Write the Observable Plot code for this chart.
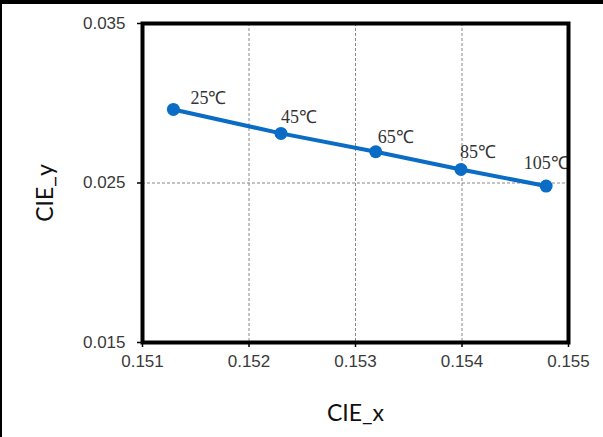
<!DOCTYPE html>
<html>
<head>
<meta charset="utf-8">
<script src="https://cdn.jsdelivr.net/npm/d3@7"></script>
<script src="https://cdn.jsdelivr.net/npm/@observablehq/plot@0.6"></script>
<style>
  html, body { margin: 0; padding: 0; background: #fff; }
  #wrap { position: relative; width: 603px; height: 437px; overflow: hidden; }
  #wrap svg { display: block; position: absolute; left: 0; top: 0; }
  .bt { position: absolute; left: 0; top: 0; width: 603px; height: 4px; background: #000; }
  .bl { position: absolute; left: 0; top: 0; width: 2px; height: 437px; background: #000; }
</style>
</head>
<body>
<div id="wrap"><div class="bt"></div><div class="bl"></div></div>
<script>
const temps = ["25℃", "45℃", "65℃", "85℃", "105℃"];
const cieX = [0.15129, 0.15230, 0.15319, 0.15399, 0.15479];
const cieY = [0.02961, 0.02811, 0.02696, 0.02585, 0.02481];
const xTicks = [0.151, 0.152, 0.153, 0.154, 0.155];
const yTicks = [0.015, 0.025, 0.035];
const xGrid = [0.152, 0.153, 0.154];
const yGrid = [0.025];

const data = temps.map((t, i) => ({t, x: cieX[i], y: cieY[i]}));

const offsets = {
  "25℃": [35, -11], "45℃": [18, -16], "65℃": [20, -15], "85℃": [17, -17], "105℃": [0, -23]
};

const blue = "#0a6cc4";
const tickFont = "'Liberation Sans', Arial, sans-serif";
const titleFont = "Lato, 'Open Sans', sans-serif";

const marks = [
  Plot.ruleX(xGrid, {stroke: "#888", strokeWidth: 1, strokeDasharray: "3,2"}),
  Plot.ruleY(yGrid, {stroke: "#888", strokeWidth: 1, strokeDasharray: "3,2"}),
  Plot.axisY({ticks: yTicks, tickFormat: d3.format(".3f"), tickSize: 5, tickPadding: 12,
    fontSize: 17, fontFamily: tickFont, fill: "#3a3a3a", stroke: "#000", strokeWidth: 1.5, label: null}),
  Plot.axisX({ticks: xTicks, tickFormat: d3.format(".3f"), tickSize: 5, tickPadding: 7,
    fontSize: 17, fontFamily: tickFont, fill: "#3a3a3a", stroke: "#000", strokeWidth: 1.5, label: null}),
  Plot.line(data, {x: "x", y: "y", stroke: blue, strokeWidth: 4}),
  Plot.dot(data, {x: "x", y: "y", r: 6.5, fill: blue, stroke: null}),
  ...temps.map(t => Plot.text(data.filter(d => d.t === t), {
    x: "x", y: "y", text: "t", dx: offsets[t][0], dy: offsets[t][1],
    fontSize: 18, fontFamily: "'Liberation Serif', 'Times New Roman', serif", fill: "#333"
  })),
  Plot.frame({stroke: "#000", strokeWidth: 4}),
  Plot.text(["CIE_x"], {frameAnchor: "bottom", dy: 71, text: d => d, fontSize: 23,
    fontFamily: titleFont, fill: "#111", lineAnchor: "middle"}),
  Plot.text(["CIE_y"], {frameAnchor: "left", dx: -97, dy: 10, text: d => d, fontSize: 23,
    fontFamily: titleFont, fill: "#111", rotate: -90, lineAnchor: "middle", textAnchor: "middle"})
];

const chart = Plot.plot({
  width: 603,
  height: 437,
  marginLeft: 142,
  marginRight: 35,
  marginTop: 23,
  marginBottom: 95,
  style: {background: "transparent", overflow: "visible"},
  x: {domain: [0.151, 0.155]},
  y: {domain: [0.015, 0.035]},
  marks
});
document.getElementById("wrap").prepend(chart);
</script>
</body>
</html>
